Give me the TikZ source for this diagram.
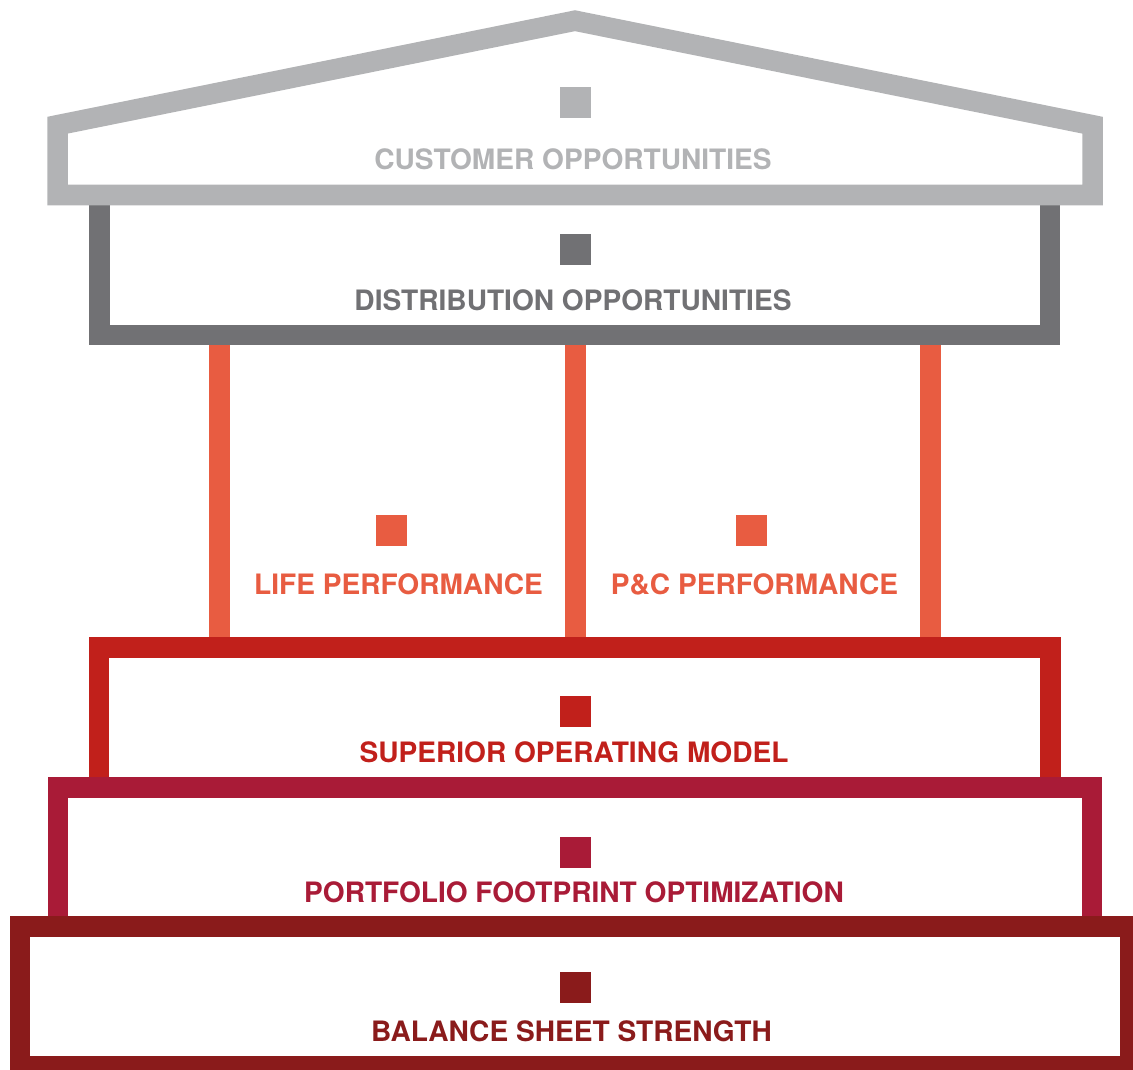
\documentclass[tikz,border=0pt]{standalone}
\usepackage{fontspec}
\setmainfont{TeX Gyre Heros}
\definecolor{roofgray}{HTML}{B2B3B5}
\definecolor{distgray}{HTML}{717174}
\definecolor{pillar}{HTML}{E85C41}
\definecolor{superior}{HTML}{C1201B}
\definecolor{portfolio}{HTML}{A91B37}
\definecolor{balance}{HTML}{8A1B1B}
\begin{document}
\begin{tikzpicture}[x=1pt,y=-1pt,
  band/.style={line width=20.5pt,line join=miter},
  sq/.style={fill=#1,minimum size=31pt,inner sep=0pt,outer sep=0pt},
  lbl/.style={text=#1,font=\bfseries\fontsize{28.1}{30}\selectfont,anchor=base,inner sep=0pt}]
\useasboundingbox (0,0) rectangle (1133,1070);
% pillars
\fill[pillar] (209,340) rectangle (230,645);
\fill[pillar] (565,340) rectangle (586,645);
\fill[pillar] (920,340) rectangle (941,645);
% distribution box (top hidden under roof)
\draw[band,distgray] (99.5,200) -- (99.5,335) -- (1050,335) -- (1050,200);
% roof
\draw[band,roofgray] (57.5,195) -- (57.5,125.2) -- (575,20.7) -- (1092.5,125.2) -- (1092.5,195) -- cycle;
% lower stacked boxes
\draw[band,superior] (99,647.5) rectangle (1050.5,787);
\draw[band,portfolio] (58,787.5) rectangle (1092,926.5);
\draw[band,balance] (20,926.5) rectangle (1130,1066);
% squares
\node[sq=roofgray] (s1) at (575,103) {};
\node[sq=distgray] (s2) at (575,249.5) {};
\node[sq=pillar] (s3) at (391.5,530.5) {};
\node[sq=pillar] (s4) at (751.5,530.5) {};
\node[sq=superior] (s5) at (575,711.5) {};
\node[sq=portfolio] (s6) at (575,852.5) {};
\node[sq=balance] (s7) at (575,987) {};
% labels
\node[lbl=roofgray] (t1) at (573,170) {CUSTOMER OPPORTUNITIES};
\node[lbl=distgray] (t2) at (573,310) {DISTRIBUTION OPPORTUNITIES};
\node[lbl=pillar] (t3) at (398.5,594) {LIFE PERFORMANCE};
\node[lbl=pillar] (t4) at (754.5,594) {P\&C PERFORMANCE};
\node[lbl=superior] (t5) at (574,762) {SUPERIOR OPERATING MODEL};
\node[lbl=portfolio] (t6) at (574,902) {PORTFOLIO FOOTPRINT OPTIMIZATION};
\node[lbl=balance] (t7) at (571.5,1041) {BALANCE SHEET STRENGTH};
\end{tikzpicture}
\end{document}
